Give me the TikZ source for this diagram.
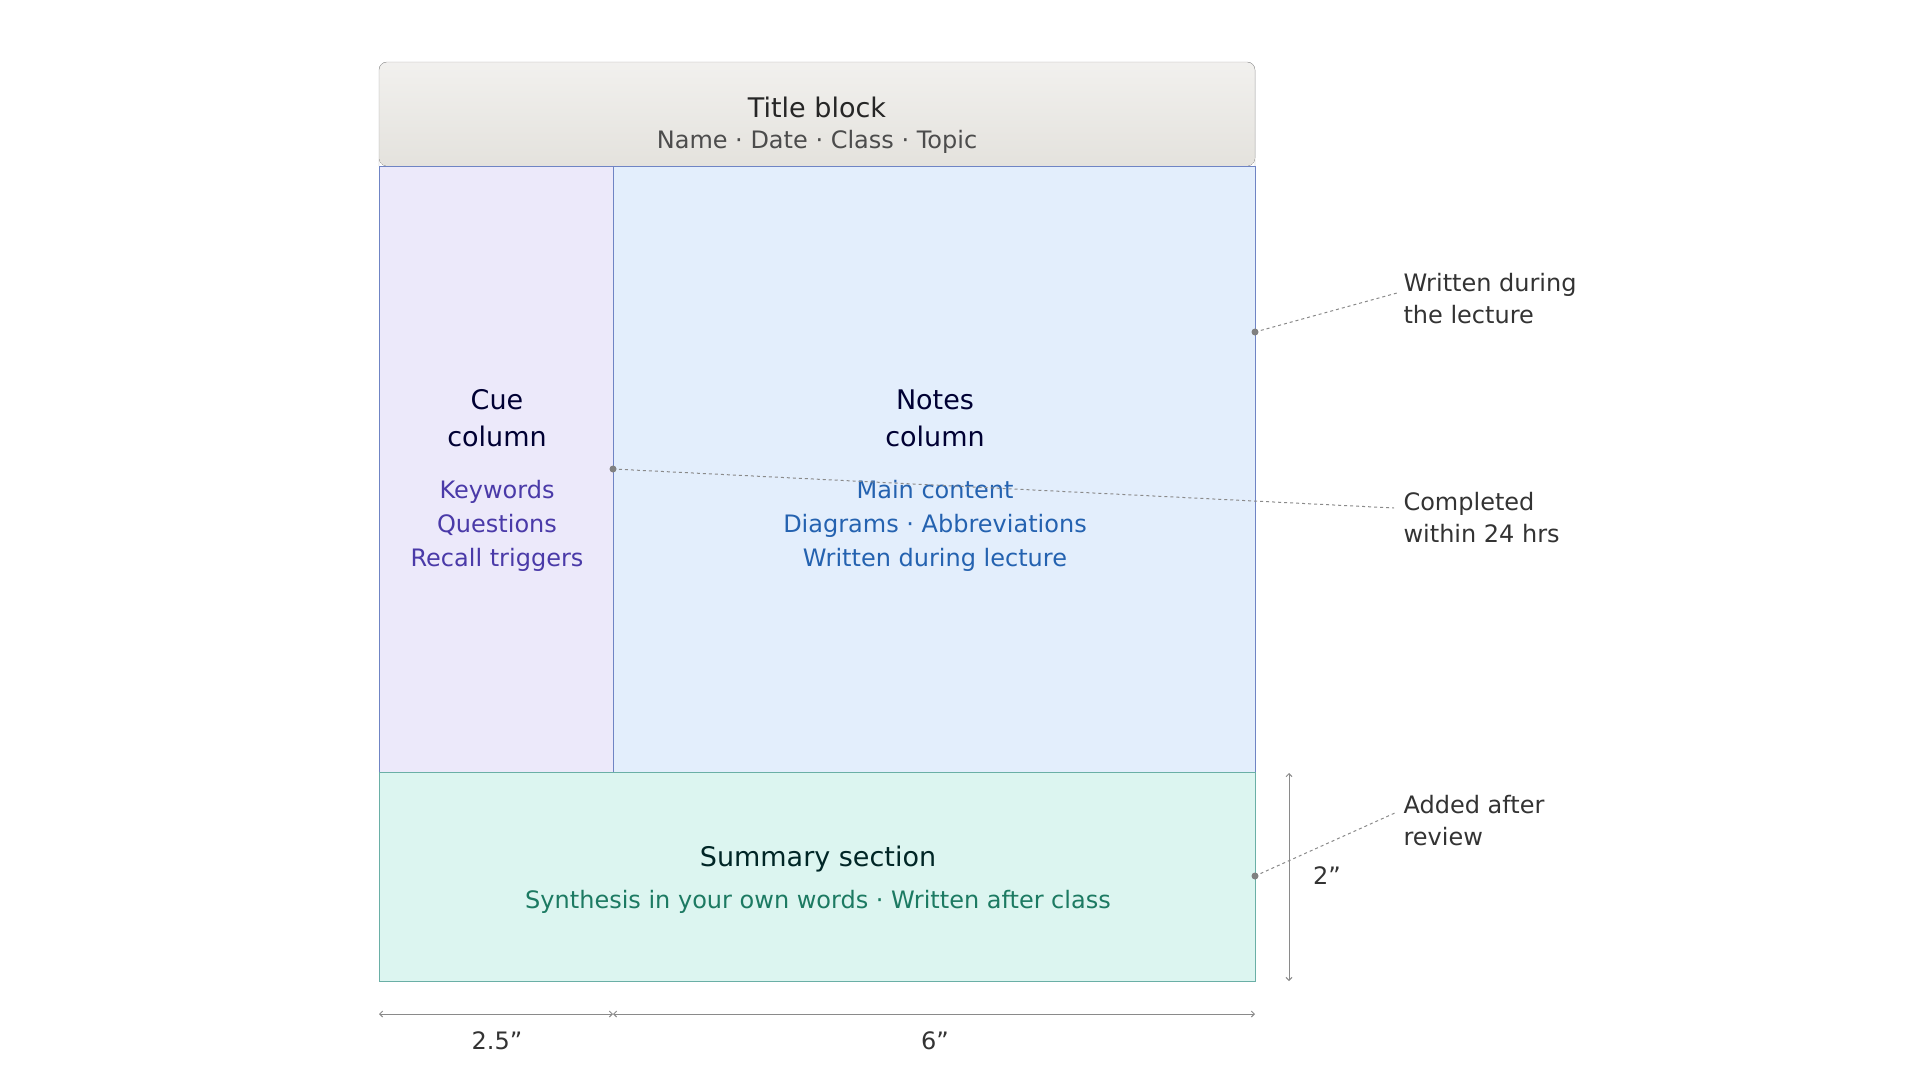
\documentclass[tikz,border=0pt]{standalone}
\usepackage{fontspec}
\setmainfont{DejaVu Sans}
\usetikzlibrary{positioning, arrows.meta}
\definecolor{titlebg}{HTML}{E4E2DD}
\definecolor{cuebg}{HTML}{ECE9FA}
\definecolor{notesbg}{HTML}{E3EEFC}
\definecolor{sumbg}{HTML}{DCF5F0}
\definecolor{frameblue}{HTML}{6F84C4}
\definecolor{frameteal}{HTML}{6AAFA6}
\definecolor{cuetext}{HTML}{4A3AA8}
\definecolor{notestext}{HTML}{2462B0}
\definecolor{sumtext}{HTML}{1C7A62}
\definecolor{dimgray}{HTML}{8A8A8A}
\newcommand{\inch}{\char"22}
\tikzset{
    head/.style={font=\fontsize{27}{37}\selectfont, align=center},
    sub/.style={font=\fontsize{24}{34}\selectfont, align=center},
    note/.style={font=\fontsize{24}{32}\selectfont, align=left, anchor=west, text=black!80},
    lead/.style={dashed, dimgray, line width=1pt},
    dimline/.style={dimgray, line width=1pt, {Straight Barb[length=3pt]}-{Straight Barb[length=3pt]}},
}
\begin{document}
\begin{tikzpicture}[x=1pt, y=-1pt]
    \useasboundingbox (0,0) rectangle (1920,1080);
    % sheet regions
    \fill[top color=titlebg!50, bottom color=titlebg, rounded corners=8pt] (379,62) rectangle (1255,166);
    \fill[cuebg] (379,166) rectangle (613,772);
    \fill[notesbg] (613,166) rectangle (1255,772);
    \fill[sumbg] (379,772) rectangle (1255,981);
    \draw[gray!70, rounded corners=8pt] (379,166) -- (379,62) -- (1255,62) -- (1255,166);
    \draw[frameblue, line width=1pt] (379,166) rectangle (1255,772);
    \draw[frameblue, line width=1pt] (613,166) -- (613,772);
    \draw[frameteal, line width=1pt] (379,772) rectangle (1255,981);
    % texts
    \node[head, text=black!85] (title) at (817,107) {Title block};
    \node[sub, text=black!70] (titlesub) at (817,142) {Name · Date · Class · Topic};
    \node[head, text=blue!20!black] (cue) at (497,418) {Cue\\column};
    \node[sub, text=cuetext] (cuelist) at (497,526) {Keywords\\Questions\\Recall triggers};
    \node[head, text=blue!20!black] (notes) at (935,418) {Notes\\column};
    \node[sub, text=notestext] (noteslist) at (935,526) {Main content\\Diagrams · Abbreviations\\Written during lecture};
    \node[head, text=teal!30!black] (summary) at (818,859) {Summary section};
    \node[sub, text=sumtext] (sumsub) at (818,902) {Synthesis in your own words · Written after class};
    % annotations
    \node[note] (during) at (1400,299) {Written during\\the lecture};
    \node[note] (within) at (1400,518) {Completed\\within 24 hrs};
    \node[note] (after) at (1400,821) {Added after\\review};
    \coordinate (pa) at (1255,332);
    \coordinate (pb) at (613,469);
    \coordinate (pc) at (1255,876);
    \draw[lead] (pa) -- (1397,293);
    \draw[lead] (pb) -- (1394,508);
    \draw[lead] (pc) -- (1397,812);
    \foreach \p in {pa,pb,pc} \fill[gray] (\p) circle (3.5pt);
    % dimensions
    \coordinate (vtop) at (1289,773);
    \coordinate (vbot) at (1289,981);
    \draw[dimline] (vtop) -- (vbot);
    \node[sub, text=black!80] (dimv) at (1327,876) {2\inch};
    \coordinate (hl) at (379,1014);
    \coordinate (hm) at (613,1014);
    \coordinate (hr) at (1255,1014);
    \draw[dimline] (hl) -- (hm);
    \draw[dimline] (hm) -- (hr);
    \node[sub, text=black!80] (dima) at (497,1041) {2.5\inch};
    \node[sub, text=black!80] (dimb) at (935,1041) {6\inch};
\end{tikzpicture}
\end{document}
